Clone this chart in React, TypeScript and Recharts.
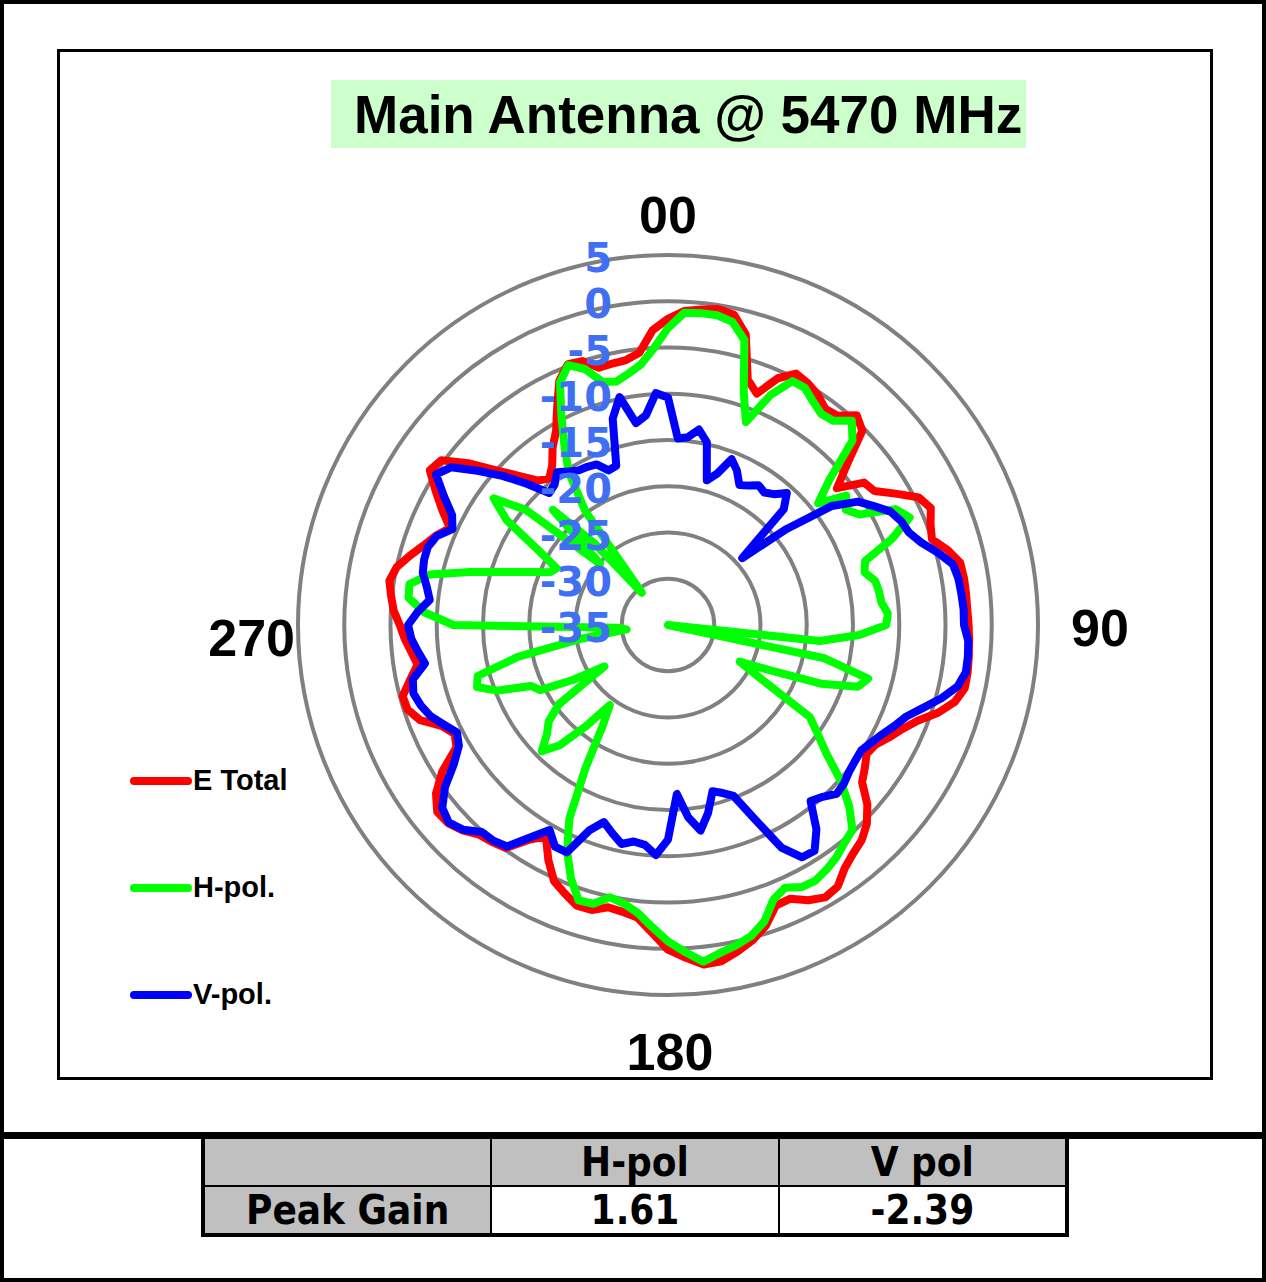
import React from 'react';
import { RadarChart, Radar, PolarGrid, PolarAngleAxis, PolarRadiusAxis, Legend } from 'recharts';

// measurement angles, degrees clockwise from 00
const angles = [
  0, 3, 6, 9, 12, 15, 18, 21, 24, 27, 30, 33, 36, 39, 42, 45, 48, 51, 54, 57,
  60, 63, 66, 69, 72, 75, 78, 81, 84, 87, 90, 93, 96, 99, 102, 105, 108, 111, 114, 117,
  120, 123, 126, 129, 132, 135, 138, 141, 144, 147, 150, 153, 156, 159, 162, 165, 168, 171, 174, 177,
  180, 183, 186, 189, 192, 195, 198, 201, 204, 207, 210, 213, 216, 219, 222, 225, 228, 231, 234, 237,
  240, 243, 246, 249, 252, 255, 258, 261, 264, 267, 270, 273, 276, 279, 282, 285, 288, 291, 294, 297,
  300, 303, 306, 309, 312, 315, 318, 321, 324, 327, 330, 333, 336, 339, 342, 345, 348, 351, 354, 357,
];

const eTotal = [
  -1.9, -1.0, -0.7, -0.4, -0.7, -2.5, -7.1, -8.2, -5.8, -4.5, -4.8, -5.3, -6.1, -5.9, -4.5, -5.3, -8.9, -11.5, -8.8, -8.4,
  -6.6, -4.6, -3.9, -4.6, -5.0, -3.7, -2.7, -2.6, -2.6, -2.6, -2.5, -2.4, -2.3, -2.2, -2.2, -2.9, -4.3, -6.1, -7.3, -8.2,
  -9.1, -9.4, -8.7, -8.0, -6.0, -4.6, -3.7, -3.2, -2.5, -1.3, -1.0, -1.6, -2.6, -2.5, -0.8, 0.3, 1.1, 1.8, 1.9, 1.0,
  0.1, -1.7, -3.2, -3.6, -3.8, -3.1, -3.1, -3.9, -4.7, -6.5, -8.6, -7.3, -5.2, -4.8, -4.5, -3.6, -3.0, -2.9, -4.0, -5.9,
  -8.6, -9.1, -8.2, -6.3, -5.4, -5.3, -6.5, -7.6, -7.1, -6.5, -6.0, -5.3, -4.9, -4.5, -5.0, -6.1, -7.2, -8.1, -9.2, -7.6,
  -6.0, -4.3, -4.7, -7.2, -10.0, -12.2, -14.0, -14.6, -13.7, -12.1, -10.8, -8.6, -6.1, -4.8, -5.0, -6.2, -6.1, -6.0, -5.4, -3.1,
];

const hPol = [
  -2.9, -1.2, -1.1, -1.1, -1.5, -3.1, -8.5, -11.5, -7.8, -5.4, -5.4, -6.2, -6.8, -6.6, -5.3, -6.8, -11.5, -14.1, -11.2, -12.1,
  -11.1, -7.4, -6.4, -9.1, -12.6, -13.0, -12.1, -11.9, -11.8, -11.2, -11.4, -14.3, -18.5, -35.0, -17.7, -12.6, -13.4, -17.3, -23.0, -26.3,
  -23.5, -16.7, -15.0, -13.0, -9.9, -7.3, -5.2, -4.7, -4.0, -3.5, -3.1, -3.2, -3.9, -3.2, -1.3, -0.2, 0.4, 0.9, 1.6, 0.4,
  -0.8, -2.3, -3.7, -4.5, -4.9, -3.8, -3.7, -5.7, -8.2, -11.5, -17.2, -22.1, -24.3, -20.9, -17.5, -15.7, -17.4, -18.4, -20.4, -26.8,
  -23.1, -19.5, -18.8, -15.2, -13.3, -13.7, -18.4, -25.5, -30.5, -29.5, -11.8, -8.6, -6.8, -6.7, -8.7, -12.9, -16.5, -19.0, -21.0, -21.5,
  -18.8, -14.2, -11.7, -15.2, -25.1, -17.4, -23.1, -30.5, -19.8, -15.3, -12.6, -9.6, -6.3, -4.9, -5.9, -7.8, -8.1, -7.5, -6.7, -5.1,
];

const vPol = [
  -10.4, -14.8, -14.6, -13.6, -14.8, -18.8, -17.8, -15.8, -16.7, -18.0, -17.6, -17.0, -17.3, -16.8, -15.8, -17.3, -24.2, -18.5, -13.1, -10.5,
  -9.3, -8.0, -7.4, -7.1, -6.2, -4.8, -3.5, -3.2, -3.1, -3.0, -3.0, -2.5, -2.4, -2.4, -3.0, -4.4, -6.0, -7.4, -8.2, -9.0,
  -9.6, -10.1, -10.0, -9.8, -9.4, -9.2, -10.0, -10.5, -7.7, -5.9, -6.0, -8.0, -12.1, -15.2, -15.9, -16.4, -14.2, -12.5, -14.1, -16.7,
  -11.8, -10.1, -11.1, -11.3, -10.8, -11.7, -12.6, -11.2, -8.1, -8.1, -9.4, -7.6, -5.4, -5.0, -4.9, -3.7, -3.1, -3.6, -5.2, -7.4,
  -8.9, -9.4, -8.5, -7.5, -6.9, -6.5, -6.8, -8.4, -7.8, -7.2, -6.9, -7.9, -9.1, -8.6, -7.9, -7.7, -7.7, -8.2, -9.5, -8.8,
  -7.0, -5.1, -6.0, -8.5, -10.9, -13.4, -15.8, -15.5, -14.6, -15.2, -15.7, -15.8, -16.0, -17.1, -16.9, -11.9, -9.8, -12.9, -12.2, -9.9,
];

const seriesKeys = ['eTotal', 'hPol', 'vPol'];
const seriesNames = ['E Total', 'H-pol.', 'V-pol.'];
const seriesColors = ['#ff0000', '#00ff00', '#0000ff'];

const compassAngles = [0, 90, 180, 270];
const compassLabels = ['00', '90', '180', '270'];
const compassOffsets = [
  { dx: 0, dy: -32, anchor: 'middle' },
  { dx: 25, dy: 3, anchor: 'start' },
  { dx: 2, dy: 49, anchor: 'middle' },
  { dx: 5, dy: 13, anchor: 'end' },
];

const tableHeader = ['', 'H-pol', 'V pol'];
const peakGainRow = ['Peak Gain', '1.61', '-2.39'];

const data = angles.map((angle, i) => ({
  angle,
  eTotal: eTotal[i],
  hPol: hPol[i],
  vPol: vPol[i],
}));

const ARIAL = "'Liberation Sans', Arial, sans-serif";
const TAHOMA = "'DejaVu Sans Condensed', 'DejaVu Sans', sans-serif";

const AngleTick = (props: any) => {
  const { x, y, payload } = props;
  const idx = compassAngles.indexOf(Number(payload?.value));
  if (idx < 0) return <g />;
  const o = compassOffsets[idx];
  return (
    <text
      x={x + o.dx}
      y={y + o.dy}
      textAnchor={o.anchor}
      dominantBaseline="central"
      fontFamily={ARIAL}
      fontWeight={700}
      fontSize={52}
      fill="#000"
    >
      {compassLabels[idx]}
    </text>
  );
};

const RingTick = (props: any) => {
  const { x, y, payload } = props;
  return (
    <text
      x={x - 56}
      y={y + 3}
      textAnchor="end"
      dominantBaseline="central"
      fontFamily="'DejaVu Sans', sans-serif"
      fontWeight={700}
      fontSize={40}
      fill="#3f6ff2"
    >
      {payload.value}
    </text>
  );
};

const LegendBox = () => (
  <div>
    {seriesNames.map((name, i) => (
      <div key={name} style={{ display: 'flex', alignItems: 'center', height: 107 }}>
        <span style={{ display: 'inline-block', width: 62, height: 8, borderRadius: 4, background: seriesColors[i] }} />
        <span style={{ marginLeft: 1, fontFamily: ARIAL, fontWeight: 700, fontSize: 29, color: '#000' }}>{name}</span>
      </div>
    ))}
  </div>
);

const cell = (bg: string, width: number): React.CSSProperties => ({
  width,
  height: 46,
  background: bg,
  display: 'flex',
  alignItems: 'center',
  justifyContent: 'center',
  fontFamily: TAHOMA,
  fontStretch: 'condensed',
  fontWeight: 700,
  fontSize: 40,
  color: '#000',
});

export default function App() {
  return (
    <div style={{ position: 'absolute', left: 0, top: 0, width: 1266, height: 1282, background: '#fff', overflow: 'hidden' }}>
      <div style={{ position: 'absolute', left: 0, top: 0, width: 1266, height: 1282, boxSizing: 'border-box', border: '4px solid #000' }} />
      <div style={{ position: 'absolute', left: 57, top: 49, width: 1156, height: 1031, boxSizing: 'border-box', border: '3px solid #000' }} />
      <div style={{ position: 'absolute', left: 0, top: 1132, width: 1266, height: 7, background: '#000' }} />

      <div style={{ position: 'absolute', left: 0, top: 0 }}>
        <RadarChart width={1266} height={1282} data={data} cx={668} cy={625} outerRadius={370} margin={{ top: 0, right: 0, bottom: 0, left: 0 }}>
          <PolarGrid gridType="circle" radialLines={false} stroke="#808080" strokeWidth={4} />
          <PolarAngleAxis dataKey="angle" tick={<AngleTick />} tickLine={false} axisLine={false} />
          {seriesKeys.map((key, i) => (
            <Radar
              key={key}
              dataKey={key}
              name={seriesNames[i]}
              stroke={seriesColors[i]}
              strokeWidth={8}
              strokeLinejoin="round"
              fill="none"
              fillOpacity={0}
              dot={false}
              isAnimationActive={false}
            />
          ))}
          <PolarRadiusAxis
            angle={90}
            domain={[-35, 5]}
            tickCount={9}
            axisLine={false}
            tickLine={false}
            tick={<RingTick />}
          />
          <Legend
            content={<LegendBox />}
            wrapperStyle={{ left: 130, top: 727, width: 'auto', height: 'auto' }}
          />
        </RadarChart>
      </div>

      <div
        style={{
          position: 'absolute',
          left: 331,
          top: 80,
          width: 695,
          height: 68,
          background: '#ccffcc',
          boxSizing: 'border-box',
          paddingLeft: 23,
          display: 'flex',
          alignItems: 'center',
          fontFamily: ARIAL,
          fontWeight: 700,
          fontSize: 53,
          color: '#000',
          whiteSpace: 'nowrap',
        }}
      >
        Main Antenna @ 5470 MHz
      </div>

      <div
        style={{
          position: 'absolute',
          left: 201,
          top: 1135,
          width: 868,
          boxSizing: 'border-box',
          border: '4px solid #000',
          background: '#000',
        }}
      >
        <div style={{ display: 'flex', gap: 2 }}>
          {tableHeader.map((t, i) => (
            <div key={'h' + i} style={cell('#c0c0c0', 286)}>{t}</div>
          ))}
        </div>
        <div style={{ display: 'flex', gap: 2, marginTop: 2 }}>
          {peakGainRow.map((t, i) => (
            <div key={'r' + i} style={cell(i === 0 ? '#c0c0c0' : '#ffffff', 286)}>{t}</div>
          ))}
        </div>
      </div>
    </div>
  );
}
